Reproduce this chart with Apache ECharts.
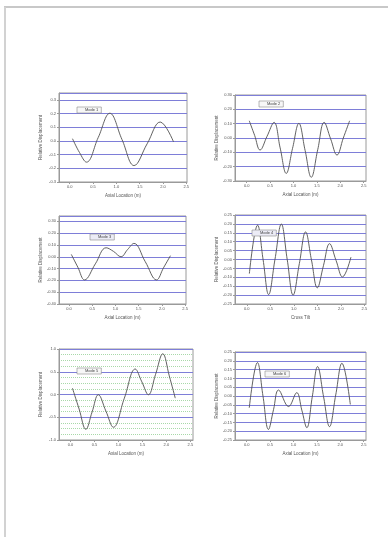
<!DOCTYPE html>
<html>
<head>
<meta charset="utf-8">
<style>
  html, body { margin: 0; padding: 0; background: #ffffff; }
  #chart { width: 388px; height: 537px; }
</style>
<script src="https://cdn.jsdelivr.net/npm/echarts@6/dist/echarts.min.js"></script>
</head>
<body>
<div id="chart"></div>
<script>
// Mode shape panels: names and shared axis titles
const modeNames = ['Mode 1', 'Mode 2', 'Mode 3', 'Mode 4', 'Mode 5', 'Mode 6'];
const xTitles = ['Axial Location (m)', 'Axial Location (m)', 'Axial Location (m)', 'Cross Tilt', 'Axial Location (m)', 'Axial Location (m)'];
const yTitle = 'Relative Displacement';

// Tick positions along the axial axis
const xTicks = [0, 0.5, 1, 1.5, 2, 2.5];

// Sampled displacement for each mode
const mode1X = [0.06, 0.21, 0.36, 0.61, 0.86, 1.12, 1.38, 1.66, 1.94, 2.225];
const mode1Y = [0.016, -0.085, -0.155, 0.024, 0.202, 0.011, -0.18, -0.021, 0.138, -0.006];

const mode2X = [0.055, 0.17, 0.285, 0.435, 0.585, 0.715, 0.845, 0.98, 1.115, 1.248, 1.38, 1.518, 1.655, 1.793, 1.93, 2.065, 2.2];
const mode2Y = [0.12, 0.018, -0.084, 0.012, 0.109, -0.069, -0.247, -0.072, 0.102, -0.086, -0.274, -0.082, 0.109, -0.005, -0.119, 0.0, 0.12];

const mode3X = [0.05, 0.19, 0.335, 0.568, 0.8, 0.96, 1.12, 1.26, 1.4, 1.643, 1.885, 2.035, 2.185];
const mode3Y = [0.02, -0.088, -0.196, -0.06, 0.076, 0.045, 0.0, 0.06, 0.113, -0.042, -0.196, -0.094, 0.009];

const mode4X = [0.055, 0.23, 0.348, 0.465, 0.6, 0.735, 0.86, 0.985, 1.118, 1.25, 1.375, 1.5, 1.63, 1.76, 1.898, 2.035, 2.215];
const mode4Y = [-0.079, 0.193, -0.002, -0.197, 0.001, 0.199, 0.0, -0.2, -0.023, 0.155, -0.002, -0.159, -0.035, 0.089, -0.005, -0.098, 0.013];

const mode5X = [0.04, 0.18, 0.32, 0.45, 0.58, 0.738, 0.895, 1.123, 1.35, 1.488, 1.625, 1.775, 1.925, 2.06, 2.185];
const mode5Y = [0.14, -0.32, -0.765, -0.385, -0.005, -0.363, -0.72, -0.08, 0.56, 0.278, -0.005, 0.445, 0.895, 0.41, -0.08];

const mode6X = [0.055, 0.23, 0.348, 0.465, 0.573, 0.68, 0.895, 1.07, 1.178, 1.285, 1.4, 1.515, 1.643, 1.77, 1.903, 2.035, 2.215];
const mode6Y = [-0.067, 0.19, 0.0, -0.19, -0.078, 0.034, -0.06, 0.019, -0.08, -0.18, -0.007, 0.167, -0.004, -0.174, 0.006, 0.186, -0.048];

// Vertical scale of each panel: [min, max, interval, decimals]
const yScales = [
  [-0.3, 0.35, 0.1, 1],
  [-0.3, 0.3, 0.1, 2],
  [-0.4, 0.345, 0.1, 2],
  [-0.25, 0.25, 0.05, 2],
  [-1, 1, 0.5, 1],
  [-0.25, 0.25, 0.05, 2]
];
// Horizontal extent of each panel: [min, max]
const xRanges = [
  [-0.23, 2.515],
  [-0.25, 2.55],
  [-0.215, 2.52],
  [-0.25, 2.535],
  [-0.24, 2.555],
  [-0.25, 2.55]
];

const xs = [mode1X, mode2X, mode3X, mode4X, mode5X, mode6X];
const ys = [mode1Y, mode2Y, mode3Y, mode4Y, mode5Y, mode6Y];

// Panel rectangles in the page (px)
const panels = [
  { left: 59, top: 93, width: 128, height: 89 },
  { left: 235, top: 95, width: 131, height: 86 },
  { left: 59, top: 216, width: 127, height: 88 },
  { left: 235, top: 215, width: 131, height: 89 },
  { left: 59, top: 349, width: 134, height: 91 },
  { left: 235, top: 352, width: 131, height: 88 }
];
// Label box anchor of each panel (px)
const boxes = [
  { left: 77, top: 107 },
  { left: 259, top: 101 },
  { left: 90, top: 234 },
  { left: 252, top: 230 },
  { left: 77, top: 368 },
  { left: 265, top: 371 }
];

const textColor = '#555555';
const gridBlue = '#7e7ed8';

const grid = [], xAxis = [], yAxis = [], series = [], legend = [];
panels.forEach((p, i) => {
  grid.push({
    left: p.left, top: p.top, width: p.width, height: p.height,
    show: true, borderColor: '#9a9a9a', borderWidth: 1, backgroundColor: '#ffffff'
  });
  const [xmin, xmax] = xRanges[i];
  xAxis.push({
    type: 'value', gridIndex: i, min: xmin, max: xmax,
    name: xTitles[i], nameLocation: 'middle', nameGap: 11,
    nameTextStyle: { fontSize: 4.5, color: textColor, fontFamily: 'Liberation Sans' },
    axisLine: { show: true, onZero: false, lineStyle: { color: '#9a9a9a' } },
    axisTick: { show: true, length: 2, customValues: xTicks, lineStyle: { color: '#9a9a9a' } },
    axisLabel: {
      customValues: xTicks, fontSize: 4, margin: 3, color: textColor, fontFamily: 'Liberation Sans',
      formatter: v => v.toFixed(1)
    },
    splitLine: { show: false }
  });
  const [ymin, ymax, step, dec] = yScales[i];
  yAxis.push({
    type: 'value', gridIndex: i, min: ymin, max: ymax, interval: step,
    name: yTitle, nameLocation: 'middle', nameGap: 16,
    nameTextStyle: { fontSize: 4.5, color: textColor, fontFamily: 'Liberation Sans' },
    axisLine: { show: true, onZero: false, lineStyle: { color: '#9a9a9a' } },
    axisTick: { show: true, length: 2, lineStyle: { color: '#9a9a9a' } },
    axisLabel: {
      fontSize: 4, margin: 3, color: textColor, fontFamily: 'Liberation Sans',
      showMaxLabel: Math.abs(ymax / step - Math.round(ymax / step)) < 1e-6,
      formatter: v => v.toFixed(dec)
    },
    splitLine: { show: true, lineStyle: { color: gridBlue, width: 1 } },
    minorTick: { show: i === 4, splitNumber: 4, length: 0 },
    minorSplitLine: { show: i === 4, lineStyle: { color: '#a9d9a9', width: 1, type: [1, 1] } }
  });
  series.push({
    name: modeNames[i], type: 'line', xAxisIndex: i, yAxisIndex: i,
    data: xs[i].map((x, k) => [x, ys[i][k]]),
    smooth: 0.4, symbol: 'none',
    lineStyle: { color: '#505050', width: 0.9 },
    itemStyle: { color: '#505050' }
  });
  legend.push({
    data: [modeNames[i]], left: boxes[i].left, top: boxes[i].top,
    orient: 'horizontal', icon: 'none', itemWidth: 0, itemHeight: 0, itemGap: 0,
    padding: [1, 3], backgroundColor: (i === 2 || i === 3) ? '#ececf6' : '#f7f7f7',
    borderColor: '#8c8c8c', borderWidth: 0.6, selectedMode: false,
    textStyle: { fontSize: 4, color: '#444444', fontFamily: 'Liberation Sans', padding: 0 }
  });
});

const chart = echarts.init(document.getElementById('chart'), null, { renderer: 'canvas' });
chart.setOption({
  animation: false,
  backgroundColor: '#ffffff',
  grid, xAxis, yAxis, series, legend,
  graphic: [
    // page edge shading along the top and left
    { type: 'line', shape: { x1: 4, y1: 7, x2: 388, y2: 7 }, style: { stroke: '#c8c8c8', lineWidth: 2 }, silent: true },
    { type: 'line', shape: { x1: 5, y1: 7, x2: 5, y2: 537 }, style: { stroke: '#d2d2d2', lineWidth: 2 }, silent: true }
  ]
});
</script>
</body>
</html>
